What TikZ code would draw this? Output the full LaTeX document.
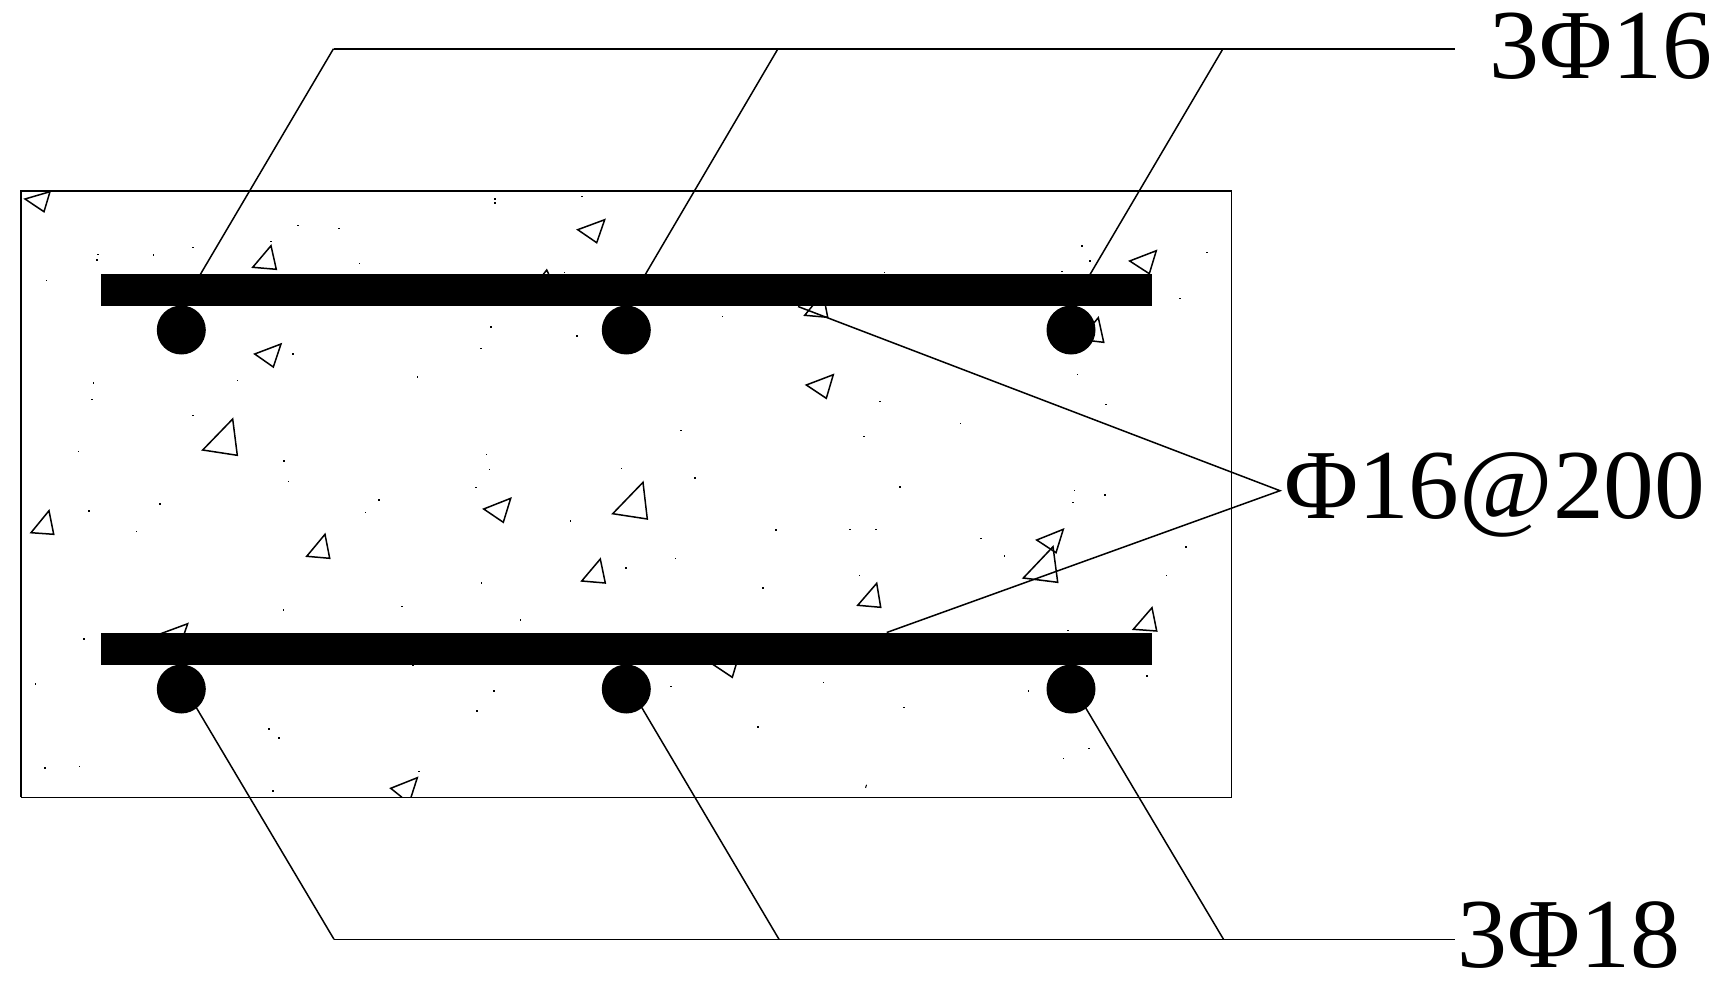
\documentclass[tikz,border=0pt]{standalone}
\usepackage{fontspec}
\setmainfont{Liberation Serif}
\newfontfamily\tagfonta[FakeStretch=1.01]{Liberation Serif}
\newfontfamily\tagfontb[FakeStretch=1.025]{Liberation Serif}
\tikzset{
  tri/.style={draw=black,line width=1.5pt,line join=miter,fill=none},
  leader/.style={draw=black,line width=1.5pt,line join=miter},
  heavy/.style={draw=black,line width=2.2pt},
  thin edge/.style={draw=black,line width=1.3pt},
  rebar/.style={circle,fill=black,draw=none,minimum size=49pt,inner sep=0pt},
  tag/.style={anchor=base west,inner sep=0pt,outer sep=0pt}
}
\begin{document}
\begin{tikzpicture}[x=1pt,y=-1pt]
\useasboundingbox (0,0) rectangle (1718,985);
\fill[white] (0,0) rectangle (1718,985);
% section outline
\coordinate (nw) at (21,191);
\coordinate (ne) at (1231.5,191);
\coordinate (se) at (1231.5,797.3);
\coordinate (sw) at (21,797.3);
% aggregate triangles
\foreach \a/\b/\c in {
 {25,199}/{50,191.7}/{44,211.7},
 {271,245.7}/{252.7,267.3}/{276.3,269.3},
 {281,344}/{254.7,354}/{273.3,367},
 {232.7,419}/{202.7,450}/{237.3,455.3},
 {604.7,219.7}/{577.7,229.7}/{596.7,242.7},
 {546.7,270}/{535,285}/{555,287},
 {804.7,315.3}/{827.7,317.3}/{823,293},
 {833.3,374.7}/{806.3,385}/{826.3,398.3},
 {643,482.3}/{612.7,513.7}/{647.3,519},
 {1156.3,250.7}/{1129.7,261}/{1149.3,273.7},
 {1098.3,317.7}/{1103.7,342.3}/{1080,339.5},
 {49,510.7}/{31,532.7}/{53.7,534.3},
 {325,534.3}/{306.7,556.3}/{329.7,558.3},
 {187.7,623.7}/{160.7,633.7}/{179.7,646.7},
 {510.7,498.3}/{483.7,509}/{503.3,522.3},
 {600.3,559}/{581.7,581}/{605.3,583},
 {739.3,654}/{712.3,664}/{732.3,677.3},
 {876.7,583.3}/{857.7,605.3}/{880.7,607.3},
 {1063.3,529.3}/{1036.7,540}/{1056,552.7},
 {1053,546.7}/{1023.3,578}/{1057.7,582.3},
 {1152,607.7}/{1133.3,629.3}/{1156.7,631}}
 {\draw[tri] (\a) -- (\b) -- (\c) -- cycle;}
\draw[tri] (402,797.3) -- (390.7,788.3) -- (417.3,777.7) -- (411,797.3);
% small dots
\foreach \x/\y in {298/225.3,339/228.3,97.7/254.3,153.3/255,193/247.3,270.7/241.7,359.3/263.7,46.3/280.3,237.3/380.3,417.3/377,93.3/383,92/399.3,193/415.3,78.3/451.7,288.3/481.7,
 495/199,582/196.3,564.3/272.3,481/348.7,722.3/316.3,680.7/430.3,486.3/454.7,489.3/469.3,621.3/468.3,476/487.3,
 884.3/272.7,1061.7/271.3,1207/252.7,1179.7/298.3,1077.3/374.3,1106/404.3,880/401.7,960.3/423.3,864/436.3,1074.3/490.7,
 136.3/531.7,365.3/512.3,283.3/610,401.7/606.3,35.3/684,413/665.3,79.3/766.7,419/771.3,
 570.3/521,675.3/558.3,481.3/583,520.3/620,671/686.3,823.3/682.3,
 850/529.3,875.7/529.3,1072.7/502.3,1105/495,981/538.3,1004.3/556,859.3/575.3,1166.3/575.3,1067.7/630.3,1146.7/676,1028.3/691,903.7/707.7,1089/748.3,1063.3/758.3}
 {\fill[black] (\x-0.8,\y-0.7) rectangle (\x+0.8,\y+0.7);}
% larger dots
\foreach \x/\y in {97/260,293/354,284/461,495/202.7,491/327,577/336,695/478,1082/246,1090/261,900/487,89/511,160/504,379.3/500,84/639,269/729,279/738,45/768,273/791,776/530,626/568,763/588,494/691,477/711,758/727,1186/546.7}
 {\fill[black] (\x-1,\y-1) rectangle (\x+1,\y+1);}
\fill[black] (865,787.5) -- (866.2,784.5) -- (867,785) -- (866,788) -- cycle;
% section edges
\draw[thin edge] (ne) -- (se) -- (sw);
\draw[heavy] (sw) -- (nw) -- (ne);
% leaders
\coordinate (ta) at (333.5,48.7);
\coordinate (tb) at (778,48.7);
\coordinate (tc) at (1223,48.7);
\coordinate (td) at (1455,48.7);
\coordinate (ba) at (334,939.3);
\coordinate (bb) at (779,939.3);
\coordinate (bc) at (1223.5,939.3);
\coordinate (bd) at (1455,939.3);
\coordinate (tip) at (1280,490.7);
\coordinate (s1) at (200.3,274.5);
\coordinate (s2) at (645.3,274.5);
\coordinate (s3) at (1090,274.5);
\coordinate (s4) at (191.8,700);
\coordinate (s5) at (637.3,700);
\coordinate (s6) at (1081,700);
\coordinate (m1) at (798,306.5);
\coordinate (m2) at (886.7,632.5);
\draw[leader] (s1) -- (ta);
\draw[leader] (s2) -- (tb);
\draw[leader] (s3) -- (tc);
\draw[heavy] (ta) -- (td);
\draw[leader] (s4) -- (ba);
\draw[leader] (s5) -- (bb);
\draw[leader] (s6) -- (bc);
\draw[leader] (ba) -- (bd);
\draw[leader] (m1) -- (tip) -- (m2);
% bars
\fill[black] (101,274) rectangle (1151.7,305.7);
\fill[black] (101,633) rectangle (1151.7,665);
\node[rebar] (c1) at (181.3,330) {};
\node[rebar] (c2) at (626.3,330) {};
\node[rebar] (c3) at (1071,330) {};
\node[rebar] (c4) at (181.3,689) {};
\node[rebar] (c5) at (626.3,689) {};
\node[rebar] (c6) at (1071,689) {};
% labels
\node[tag,font=\tagfonta\fontsize{99}{99}\selectfont] (t1) at (1489,78.3) {3Φ16};
\node[tag,font=\tagfontb\fontsize{99}{99}\selectfont] (t2) at (1284,518.3) {Φ16@200};
\node[tag,font=\tagfonta\fontsize{99}{99}\selectfont] (t3) at (1457,967) {3Φ18};
\end{tikzpicture}
\end{document}
